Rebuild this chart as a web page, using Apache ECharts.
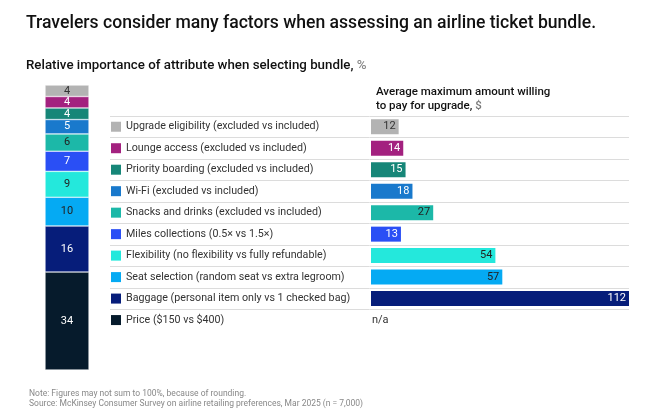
<!DOCTYPE html>
<html>
<head>
<meta charset="utf-8">
<script src="https://cdn.jsdelivr.net/npm/echarts@6/dist/echarts.min.js"></script>
<style>
  html, body { margin: 0; padding: 0; background: #fff; }
  #chart { width: 650px; height: 416px; }
</style>
</head>
<body>
<div id="chart"></div>
<script>
// attributes, top to bottom
var attributes = [
  'Upgrade eligibility (excluded vs included)',
  'Lounge access (excluded vs included)',
  'Priority boarding (excluded vs included)',
  'Wi-Fi (excluded vs included)',
  'Snacks and drinks (excluded vs included)',
  'Miles collections (0.5\u00d7 vs 1.5\u00d7)',
  'Flexibility (no flexibility vs fully refundable)',
  'Seat selection (random seat vs extra legroom)',
  'Baggage (personal item only vs 1 checked bag)',
  'Price ($150 vs $400)'
]
// relative importance, %
var importance = [4, 4, 4, 5, 6, 7, 9, 10, 16, 34]
// average max willing to pay, $ (null = n/a)
var willingToPay = [12, 14, 15, 18, 27, 13, 54, 57, 112, null]

var colors = ['#b3b3b3', '#a3217f', '#168678', '#1979cc', '#1cb8a8',
  '#2a4ff5', '#24e8dc', '#05aaf3', '#061d7a', '#061b2c']
var labelColors = ['#333', '#fff', '#fff', '#fff', '#222',
  '#fff', '#222', '#222', '#fff', '#fff']

var font = 'Roboto'
var chartDom = document.getElementById('chart')
var myChart = echarts.init(chartDom)

var rich = { t: { fontSize: 10.7, color: '#333', fontFamily: font, padding: [0, 0, 0, 5] } }
colors.forEach(function (c, i) {
  rich['s' + i] = { width: 10, height: 10, backgroundColor: c }
})

var total = importance.reduce(function (a, b) { return a + b }, 0)

var series = []
attributes.forEach(function (name, i) {
  series.push({
    name: name,
    type: 'bar',
    stack: 'imp',
    xAxisIndex: 0,
    yAxisIndex: 0,
    barWidth: '100%',
    data: [importance[i]],
    itemStyle: { color: colors[i], borderColor: '#fff', borderWidth: 0.5 },
    label: {
      show: true,
      position: 'inside',
      color: labelColors[i],
      fontSize: 11,
      fontFamily: font
    }
  })
})

series.push({
  type: 'bar',
  xAxisIndex: 2,
  yAxisIndex: 2,
  barWidth: 15,
  data: willingToPay.map(function (v, i) {
    if (v === null) {
      return {
        value: 0,
        label: { position: 'right', distance: 1, formatter: 'n/a', color: '#333' }
      }
    }
    return { value: v, itemStyle: { color: colors[i] }, label: { color: labelColors[i] } }
  }),
  label: {
    show: true,
    position: 'insideRight',
    distance: 3,
    fontSize: 11,
    fontFamily: font
  }
})

var option = {
  animation: false,
  title: [
    {
      text: 'Travelers consider many factors when assessing an airline ticket bundle.',
      left: 21, top: 10,
      textStyle: { fontSize: 17.6, fontWeight: 500, color: '#111', fontFamily: font }
    },
    {
      text: 'Relative importance of attribute when selecting bundle, {g|%}',
      left: 21, top: 54,
      textStyle: {
        fontSize: 13.3, fontWeight: 500, color: '#111', fontFamily: font,
        rich: { g: { fontSize: 13.3, color: '#888', fontFamily: font } }
      }
    },
    {
      text: 'Average maximum amount willing\nto pay for upgrade, {g|$}',
      left: 371, top: 80,
      textStyle: {
        fontSize: 11.5, fontWeight: 500, color: '#111', fontFamily: font, lineHeight: 14,
        rich: { g: { fontSize: 11.5, color: '#777', fontFamily: font, lineHeight: 14 } }
      }
    },
    {
      text: 'Note: Figures may not sum to 100%, because of rounding.\nSource: McKinsey Consumer Survey on airline retailing preferences, Mar 2025 (n = 7,000)',
      left: 24, top: 384,
      textStyle: { fontSize: 8.5, fontWeight: 'normal', color: '#888', fontFamily: font, lineHeight: 10 }
    }
  ],
  grid: [
    { left: 45, top: 85, width: 44, height: 285 },
    { left: 110, top: 116, right: 21, height: 193.3 },
    { left: 371, top: 116, right: 21, height: 214.8 }
  ],
  xAxis: [
    { gridIndex: 0, type: 'category', data: ['importance'], show: false },
    { gridIndex: 1, type: 'value', min: 0, max: 1, show: false },
    { gridIndex: 2, type: 'value', min: 0, max: 112, show: false }
  ],
  yAxis: [
    { gridIndex: 0, type: 'value', min: 0, max: total, inverse: true, show: false },
    {
      gridIndex: 1, type: 'value', min: 0, max: 9, interval: 1,
      axisLine: { show: false }, axisTick: { show: false }, axisLabel: { show: false },
      splitLine: { show: true, lineStyle: { color: '#dcdcdc', width: 1 } }
    },
    {
      gridIndex: 2, type: 'category', data: attributes, inverse: true,
      axisLine: { show: false }, axisTick: { show: false },
      splitLine: { show: false },
      axisLabel: {
        align: 'left',
        margin: 260,
        formatter: function (value, index) {
          return '{s' + index + '|}{t|' + value + '}'
        },
        rich: rich
      }
    }
  ],
  series: series
}

option && myChart.setOption(option)
</script>
</body>
</html>
